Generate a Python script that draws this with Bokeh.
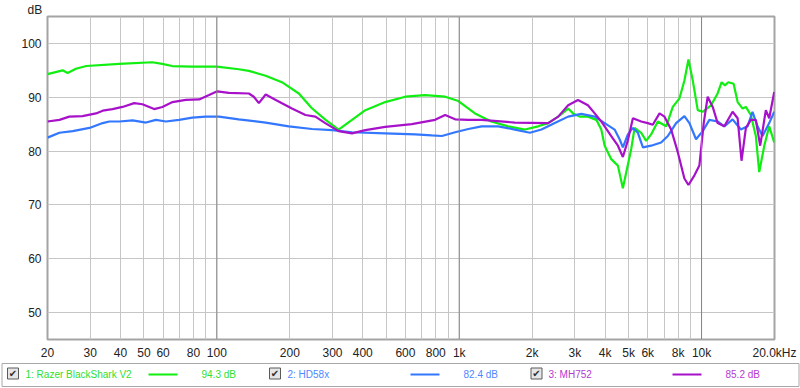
from bokeh.plotting import figure
from bokeh.models import FixedTicker, Span, Range1d, Title
from bokeh.embed import file_html
from bokeh.resources import INLINE
from bokeh.core.properties import value

# ---------------- data ----------------
razer_freq = [20, 23.1, 24.2, 26.2, 28.9, 39.6, 54.1, 59.5, 65.4, 79, 100, 123, 135.5, 158.9,
              185.5, 217.9, 246, 281, 318, 410, 495, 599, 723, 875, 992, 1162, 1356, 1593,
              1868, 2117, 2329, 2561, 2815, 2950, 3143, 3397, 3680, 3857, 3983, 4240, 4517,
              4735, 5126, 5293, 5636, 5906, 6193, 6600, 7145, 7608, 8108, 8497, 8830, 9200,
              9645, 10110, 10945, 11650, 12100, 12490, 12900, 13560, 14090, 14770, 15240,
              15970, 16750, 17300, 18150, 19020, 19950]
razer_db = [94.3, 95.0, 94.5, 95.3, 95.8, 96.2, 96.5, 96.2, 95.8, 95.7, 95.7, 95.2, 94.9, 94.0,
            92.8, 90.7, 88.0, 85.8, 84.0, 87.6, 89.1, 90.1, 90.4, 90.1, 89.3, 87.0, 85.5, 84.6,
            84.0, 84.6, 85.2, 86.4, 87.9, 87.0, 86.4, 86.4, 85.8, 84.0, 81.0, 78.5, 77.3,
            73.1, 80.4, 84.3, 83.4, 81.9, 83.1, 85.5, 84.6, 88.2, 89.8, 93.1, 97.0, 93.1,
            87.6, 87.3, 88.5, 90.7, 92.8, 92.2, 92.8, 92.5, 89.1, 87.9, 88.2,
            86.7, 82.8, 76.1, 81.0, 84.6, 81.6]

hd58x_freq = [20, 22.4, 25.4, 29.8, 33.8, 36.0, 39.6, 44.9, 51.0, 56.0, 61.6, 69.8, 79.2, 90.0,
              102, 123, 159, 198, 247, 299, 361, 495, 658, 770, 848, 962, 1091, 1237, 1449,
              1698, 1957, 2185, 2479, 2815, 3189, 3624, 3983, 4377, 4590, 4735, 4966, 5208,
              5461, 5728, 6193, 6810, 7260, 7853, 8497, 8912, 9490, 10110, 10770, 11650,
              12410, 13430, 14530, 15480, 16230, 17020, 17850, 19020, 19950]
hd58x_db = [82.5, 83.4, 83.7, 84.3, 85.2, 85.5, 85.5, 85.7, 85.3, 85.8, 85.5, 85.8, 86.2, 86.4,
            86.4, 85.9, 85.3, 84.6, 84.1, 83.9, 83.5, 83.3, 83.1, 82.9, 82.8, 83.5, 84.1, 84.6, 84.6,
            84.0, 83.4, 84.0, 85.2, 86.4, 86.9, 86.4, 85.2, 84.0, 82.2, 80.7, 83.1, 84.3,
            83.4, 80.7, 81.0, 81.6, 82.8, 85.2, 86.5, 85.2, 82.2, 83.7, 85.8, 85.5,
            84.6, 85.9, 84.0, 84.6, 87.3, 84.6, 82.8, 85.2, 87.3]

mh752_freq = [20, 22.4, 24.6, 27.9, 31.7, 33.8, 37.1, 40.8, 45.6, 49.3, 55.1, 59.6, 65.6, 74.4,
              84.5, 92.8, 100.4, 112, 135.5, 142, 149, 159, 175, 204, 232, 255, 280, 318, 361,
              410, 495, 637, 795, 875, 962, 1091, 1237, 1698, 2329, 2561, 2815, 3092, 3397,
              3624, 3857, 4240, 4517, 4735, 4966, 5208, 5636, 5999, 6290, 6708, 7032, 7490,
              7979, 8497, 8830, 9348, 9796, 10208, 10600, 11120, 11650, 12410, 13430, 14090,
              14620, 15240, 15970, 16750, 17460, 18420, 19020, 19950]
mh752_db = [85.5, 85.8, 86.4, 86.5, 87.0, 87.5, 87.8, 88.2, 88.9, 88.7, 87.8, 88.2, 89.1, 89.5,
            89.6, 90.4, 91.1, 90.8, 90.7, 90.1, 88.9, 90.5, 89.5, 87.9, 86.7, 86.4, 85.2, 83.7, 83.3,
            83.9, 84.5, 85.0, 85.8, 86.7, 85.9, 85.8, 85.8, 85.3, 85.2, 86.4, 88.5, 89.5, 88.5,
            87.0, 85.5, 82.8, 81.0, 78.9, 82.0, 86.1, 85.5, 85.2, 84.9, 87.0, 86.4, 84.0,
            79.8, 74.9, 73.7, 75.5, 77.3, 85.2, 90.1, 88.2, 85.2, 84.6, 87.3, 86.1,
            78.2, 84.3, 85.8, 85.8, 81.0, 87.6, 86.1, 91.0]

x_ticks = [20, 30, 40, 50, 60, 80, 100, 200, 300, 400, 600, 800, 1000, 2000, 3000, 4000,
           5000, 6000, 8000, 10000, 20000]
x_tick_labels = ["20", "30", "40", "50", "60", "80", "100", "200", "300", "400", "600", "800",
                 "1k", "2k", "3k", "4k", "5k", "6k", "8k", "10k", "20.0kHz"]
x_grid_lines = [30, 40, 50, 60, 70, 80, 90, 100, 200, 300, 400, 500, 600, 700, 800, 900,
                1000, 2000, 3000, 4000, 5000, 6000, 7000, 8000, 9000, 10000]
x_decades = [100, 1000, 10000]
y_ticks = [50, 60, 70, 80, 90, 100]
y_unit = "dB"

series_names = ["1: Razer BlackShark V2", "2: HD58x", "3: MH752"]
series_levels = ["94.3 dB", "82.4 dB", "85.2 dB"]
line_colors = ["#11ee11", "#3377ff", "#a711c9"]
text_colors = ["#2fe02f", "#4f86ff", "#b43ad0"]

FONT = "Liberation Sans"

# ---------------- main plot ----------------
p = figure(width=800, height=362, x_axis_type="log",
           x_range=Range1d(20, 20000), y_range=Range1d(45, 105),
           output_backend="svg", toolbar_location=None,
           min_border_left=47, min_border_right=26, min_border_top=14, min_border_bottom=19)
p.background_fill_color = "white"
p.border_fill_color = "white"
p.outline_line_color = "#a4a4a4"
p.outline_line_width = 2

p.add_layout(Title(text=y_unit, align="left", offset=-20, standoff=0, text_font=FONT,
                   text_font_size="12px", text_font_style="normal", text_color="#222222"),
             "above")

for ax in (p.xaxis, p.yaxis):
    ax.axis_line_color = None
    ax.major_tick_line_color = None
    ax.minor_tick_line_color = None
    ax.major_tick_out = 0
    ax.major_label_text_font = FONT
    ax.major_label_text_font_size = "12px"
    ax.major_label_text_color = "#222222"

p.xaxis.ticker = FixedTicker(ticks=x_ticks)
p.xaxis.major_label_overrides = {t: l for t, l in zip(x_ticks, x_tick_labels)}
p.xaxis.major_label_standoff = 6
p.yaxis.ticker = FixedTicker(ticks=y_ticks)
p.yaxis.major_label_standoff = 6

p.xgrid.ticker = FixedTicker(ticks=x_grid_lines)
p.ygrid.ticker = FixedTicker(ticks=y_ticks)
p.grid.grid_line_color = "#c6c6c6"
p.grid.grid_line_width = 1

for d in x_decades:
    p.add_layout(Span(location=d, dimension="height", line_color="#858585", line_width=1))

p.line(razer_freq, razer_db, line_color=line_colors[0], line_width=2.2)
p.line(hd58x_freq, hd58x_db, line_color=line_colors[1], line_width=2.2)
p.line(mh752_freq, mh752_db, line_color=line_colors[2], line_width=2.2)

# ---------------- legend strip (separate root, so it is not frame-aligned) ----------------
lf = figure(width=800, height=26, x_range=Range1d(0, 800), y_range=Range1d(0, 26),
            output_backend="svg", toolbar_location=None, min_border=0,
            x_axis_location=None, y_axis_location=None)
lf.grid.visible = False
lf.outline_line_color = None
lf.background_fill_color = "white"
lf.border_fill_color = "white"

box_x = [12.5, 274.5, 536]
name_x = [25, 287, 548]
seg_x0 = [148, 410, 672]
seg_x1 = [177, 439, 701]
level_x = [201, 463, 725]

lf.quad(left=[1.5], right=[798.5], bottom=[2], top=[25], fill_color=None,
        line_color="#a8a8a8", line_width=1)
lf.rect(x=box_x, y=[15] * 3, width=11, height=11, fill_color="#e6e6e6", line_color="#5a5a5a")
lf.text(x=box_x, y=[15] * 3, text=["✔"] * 3, text_font=value("DejaVu Sans"),
        text_font_size="10px", text_align="center", text_baseline="middle", text_color="#303030")
lf.text(x=name_x, y=[14] * 3, text=series_names, text_color=text_colors,
        text_font=value(FONT), text_font_size="10px", text_baseline="middle")
lf.segment(x0=seg_x0, x1=seg_x1, y0=[14] * 3, y1=[14] * 3, line_color=line_colors, line_width=2)
lf.text(x=level_x, y=[14] * 3, text=series_levels, text_color=text_colors,
        text_font=value(FONT), text_font_size="10px", text_baseline="middle")

open("out.html", "w").write(file_html([p, lf], INLINE))
